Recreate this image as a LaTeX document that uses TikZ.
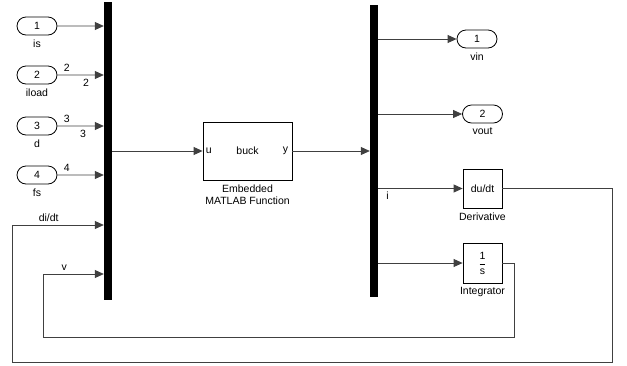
\documentclass[tikz,border=0pt]{standalone}
\usepackage{fontspec}
\setmainfont{Liberation Sans}
\usetikzlibrary{shapes,arrows.meta,positioning}
\tikzset{
        port/.style = {draw, thick, rounded rectangle, minimum height=18pt, minimum width=40pt, inner sep=0pt},
        block/.style = {draw, thick, rectangle, inner sep=0pt},
        bar/.style = {fill=black, rectangle, minimum width=8pt, inner sep=0pt},
        lbl/.style = {inner sep=0pt, font=\fontsize{10.5}{12}\selectfont},
        dim/.style = {inner sep=0pt, font=\fontsize{10.5}{12}\selectfont},
        sig/.style = {draw=black!75, line width=0.8pt},
    }
\begin{document}
\begin{tikzpicture}[x=1pt, y=-1pt, >={Triangle[length=9pt,width=8pt]},
    every node/.append style={font=\fontsize{10.5}{12}\selectfont}]
    \useasboundingbox (0,0) rectangle (627,365);

    % mux and demux
    \node [bar, minimum height=298pt] (mux) at (108,151) {};
    \node [bar, minimum height=292pt] (demux) at (374,151) {};

    % inports
    \node [port] (in1) at (37,26) {1};
    \node [port] (in2) at (37,75) {2};
    \node [port] (in3) at (37,126) {3};
    \node [port] (in4) at (37,175) {4};
    \node [lbl, below=4pt of in1] {is};
    \node [lbl, below=4pt of in2] {iload};
    \node [lbl, below=4pt of in3] {d};
    \node [lbl, below=4pt of in4] {fs};

    % embedded function
    \node [block, minimum width=89pt, minimum height=58pt] (buck) at (247.5,151) {buck};
    \node [lbl, anchor=west] at ([xshift=3pt]buck.west) {u};
    \node [lbl, anchor=east] at ([xshift=-4pt]buck.east) {y};
    \node [lbl, below=4pt of buck, align=center] {Embedded\\MATLAB Function};

    % outports and blocks
    \node [port] (out1) at (477,39) {1};
    \node [port] (out2) at (482.5,114) {2};
    \node [lbl, below=4pt of out1] {vin};
    \node [lbl, below=4pt of out2] {vout};
    \node [block, minimum width=39pt, minimum height=39pt] (deriv) at (482.5,188.5) {du/dt};
    \node [block, minimum width=39pt, minimum height=40pt] (integ) at (482.5,263) {$\displaystyle\frac{\textrm{1}}{\textrm{s}}$};
    \node [lbl, below=4pt of deriv] {Derivative};
    \node [lbl, below=4pt of integ] {Integrator};

    \coordinate (fbA) at (612,362);
    \coordinate (fbB) at (12,225);
    \coordinate (fbC) at (514,337);
    \coordinate (fbD) at (43,274);

    % signals
    \draw [sig, ->] (in1) -- (in1 -| mux.west);
    \draw [sig, ->] (in2) -- node [dim, pos=0.2, above=3pt] {2} node [dim, pos=0.62, below=4pt] {2} (in2 -| mux.west);
    \draw [sig, ->] (in3) -- node [dim, pos=0.2, above=3pt] {3} node [dim, pos=0.55, below=4pt] {3} (in3 -| mux.west);
    \draw [sig, ->] (in4) -- node [dim, pos=0.2, above=3pt] {4} (in4 -| mux.west);
    \draw [sig, ->] (mux.east |- buck) -- (buck.west);
    \draw [sig, ->] (buck.east) -- (demux.west |- buck);
    \draw [sig, ->] (demux.east |- out1) -- (out1.west);
    \draw [sig, ->] (demux.east |- out2) -- (out2.west);
    \draw [sig, ->] (demux.east |- deriv) -- (deriv.west);
    \draw [sig, ->] (demux.east |- integ) -- (integ.west);
    \node [lbl, anchor=north west] at ([xshift=8pt,yshift=-3pt]demux.east |- deriv) {i};

    % feedback
    \draw [sig, ->] (deriv.east) -| (fbA) -| (fbB) -- node [lbl, above=3pt, pos=0.4] {di/dt} (fbB -| mux.west);
    \draw [sig, ->] (integ.east) -| (fbC) -| (fbD) -- node [lbl, above=3pt, pos=0.35] {v} (fbD -| mux.west);

\end{tikzpicture}
\end{document}
